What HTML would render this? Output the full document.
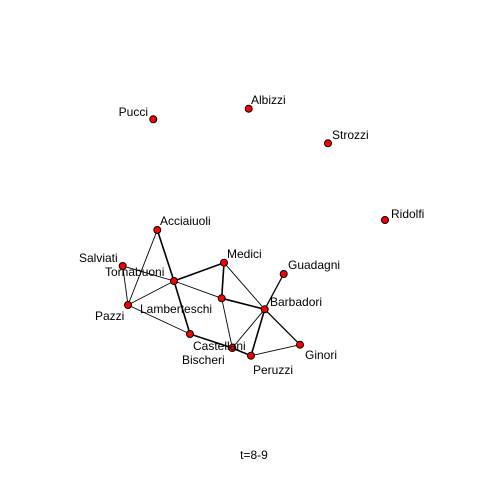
<!DOCTYPE html>
<html><head><meta charset="utf-8"><style>
html,body{margin:0;padding:0;background:#fff}
svg{display:block}
text{font-family:"Liberation Sans",Arial,sans-serif;font-size:12px;fill:#000}
</style></head><body>
<svg id="chart" width="480" height="480" viewBox="0 0 480 480" xmlns="http://www.w3.org/2000/svg">
<rect width="480" height="480" fill="#fff"/>
<g id="edges"></g>
<g id="nodes"></g>
<g id="labels"></g>
<text x="254" y="459" text-anchor="middle">t=8-9</text>
</svg>
<script>
const names = ["Pucci","Albizzi","Strozzi","Ridolfi","Acciaiuoli","Salviati","Tornabuoni","Medici","Guadagni","Lamberteschi","Pazzi","Barbadori","Bischeri","Castellani","Peruzzi","Ginori"];
const nodeX = [153.3,248.7,328,385,157.3,122.7,174,224,283.7,221.7,128,264.7,190,232.3,251,300];
const nodeY = [119.3,108.7,143.3,220,230,266,281,262.7,274,298.3,305,309.3,334,348,355.7,344.7];
const labelX = [148,251,332,391,160,79,105,227,288,140,95,270,182,193,253,305];
const labelY = [116,104,139,218,225,262,276,258,269,313,320,306,364,350,374,359];
const labelAnchor = ["end","start","start","start","start","start","start","start","start","start","start","start","start","start","start","start"];
const edgeFrom = ["Acciaiuoli","Acciaiuoli","Salviati","Salviati","Pazzi","Tornabuoni","Tornabuoni","Tornabuoni","Medici","Medici","Lamberteschi","Lamberteschi","Pazzi","Bischeri","Castellani","Guadagni","Barbadori","Barbadori","Barbadori","Peruzzi"];
const edgeTo = ["Tornabuoni","Pazzi","Tornabuoni","Pazzi","Tornabuoni","Medici","Lamberteschi","Bischeri","Lamberteschi","Barbadori","Barbadori","Castellani","Bischeri","Castellani","Peruzzi","Barbadori","Castellani","Peruzzi","Ginori","Ginori"];
const edgeWeight = [1.6,0.9,0.9,0.9,0.9,1.6,0.9,1.6,1.6,0.9,1.6,0.9,0.9,1.6,1.6,1.3,0.9,1.6,1.3,0.9];
const NS="http://www.w3.org/2000/svg";
const idx = n => names.indexOf(n);
const eg=document.getElementById('edges'), ng=document.getElementById('nodes'), lg=document.getElementById('labels');
for(let i=0;i<edgeFrom.length;i++){
  const a=idx(edgeFrom[i]), b=idx(edgeTo[i]);
  const l=document.createElementNS(NS,'line');
  l.setAttribute('x1',nodeX[a]);l.setAttribute('y1',nodeY[a]);
  l.setAttribute('x2',nodeX[b]);l.setAttribute('y2',nodeY[b]);
  l.setAttribute('stroke','#000');l.setAttribute('stroke-width',edgeWeight[i]);
  
  
  eg.appendChild(l);
}
for(let i=0;i<names.length;i++){
  const c=document.createElementNS(NS,'circle');
  c.setAttribute('cx',nodeX[i]);c.setAttribute('cy',nodeY[i]);c.setAttribute('r',3.5);
  c.setAttribute('fill','#f00');c.setAttribute('stroke','#000');c.setAttribute('stroke-width',1);
  
  
  ng.appendChild(c);
  const t=document.createElementNS(NS,'text');
  t.setAttribute('x',labelX[i]);t.setAttribute('y',labelY[i]);t.setAttribute('text-anchor',labelAnchor[i]);
  t.textContent=names[i];
  
  
  lg.appendChild(t);
}
</script>
</body></html>
